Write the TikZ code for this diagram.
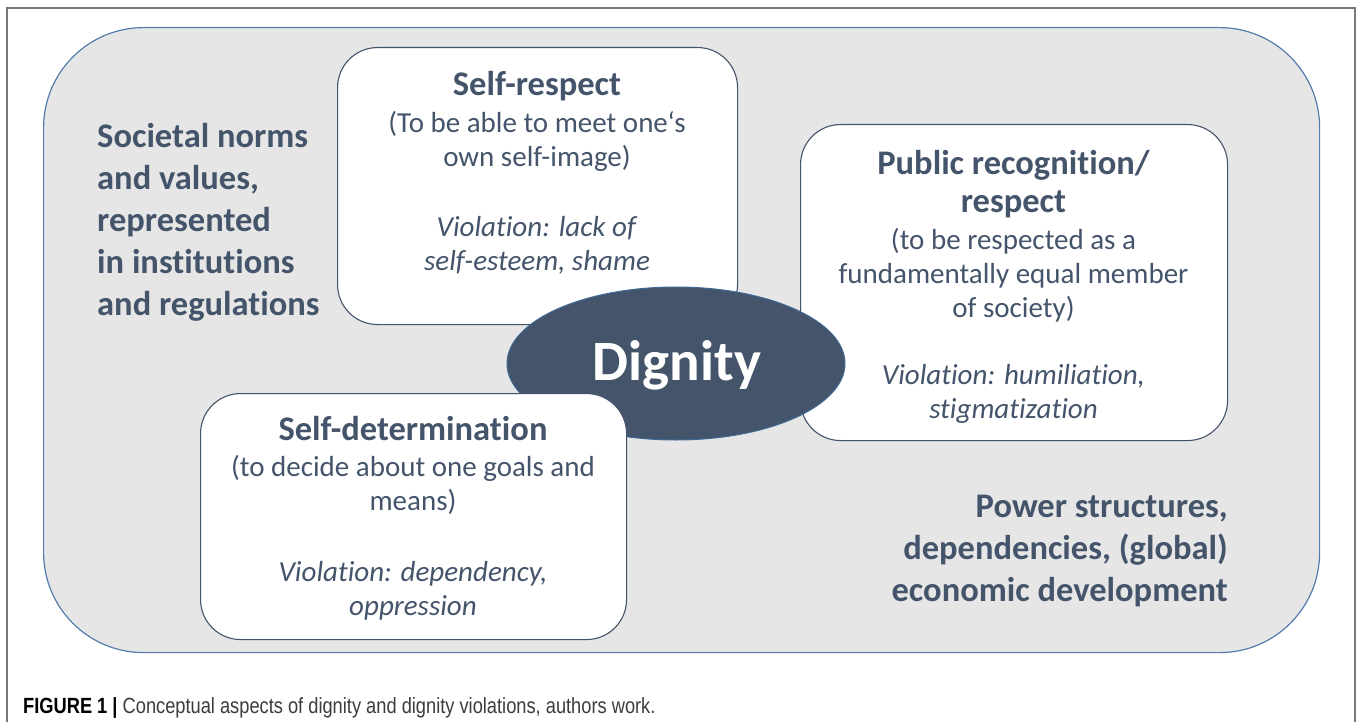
\documentclass[tikz,border=0pt]{standalone}
\usepackage{fontspec}
\setmainfont{Carlito}[Ligatures=NoCommon]
\newfontfamily\capfont[FakeStretch=0.83]{Liberation Sans}
\usetikzlibrary{shapes.geometric}

\definecolor{ink}{RGB}{68,84,106}
\definecolor{panel}{RGB}{231,230,230}
\definecolor{rim}{RGB}{84,124,172}
\definecolor{corerim}{RGB}{65,105,150}
\definecolor{frameline}{RGB}{120,120,120}
\definecolor{captext}{RGB}{60,60,60}

\newcommand{\bodyfont}{\fontsize{29}{34}\selectfont}
\newcommand{\headfont}{\fontsize{34.5}{40}\selectfont\bfseries}
\newcommand{\outerfont}{\fontsize{34.5}{42}\selectfont\bfseries}

\begin{document}
\begin{tikzpicture}[x=1pt,y=-1pt,
  aspect/.style={draw=ink, line width=1.1pt, fill=white, rounded corners=40pt,
                 inner sep=0pt, anchor=north west},
  % multi-line texts are placed by the baseline of their last line
  aspecttext/.style={anchor=base, align=center, text=ink, inner sep=0pt, font=\bodyfont},
  contexttext/.style={text=ink, inner sep=0pt, font=\outerfont}]

\useasboundingbox (0,0) rectangle (1358,722);

% figure frame (open at the bottom)
\coordinate (fbl) at (7,722);
\coordinate (ftl) at (7,8);
\coordinate (ftr) at (1355,8);
\coordinate (fbr) at (1355,722);
\draw[frameline, line width=1.2pt] (fbl) -- (ftl) -- (ftr) -- (fbr);

% societal context panel
\node[draw=rim, fill=panel, line width=1.2pt, rounded corners=100pt,
      minimum width=1276pt, minimum height=625pt, inner sep=0pt,
      anchor=north west] (panel) at (43,27) {};

% the three aspects
\node[aspect, minimum width=400pt, minimum height=277pt] (selfrespect) at (337,47) {};
\node[aspect, minimum width=427pt, minimum height=316pt] (recognition) at (800,124) {};

% dignity in the middle
\node[ellipse, fill=ink, draw=corerim, line width=1pt,
      minimum width=338pt, minimum height=153pt, inner sep=0pt] (core) at (676,363.5) {};
\node[anchor=base, text=white, inner sep=0pt,
      font=\fontsize{57}{60}\selectfont\bfseries] (coretext) at (677,380) {Dignity};

\node[aspect, minimum width=426pt, minimum height=246pt] (selfdet) at (200,393) {};

% texts of the aspects
\node[aspecttext] (selfrespecttext) at (537,270)
  {{\headfont Self-respect}\\[3pt]
   (To be able to meet one‘s\\
   own self-image)\\[36pt]
   \textit{Violation: lack of}\\
   \textit{self-esteem, shame}};

\node[aspecttext] (recognitiontext) at (1013.5,418)
  {{\headfont Public recognition/}\\[4pt]
   {\headfont respect}\\[3pt]
   (to be respected as a\\
   fundamentally equal member\\
   of society)\\[33pt]
   \textit{Violation: humiliation,}\\
   \textit{stigmatization}};

\node[aspecttext] (selfdettext) at (413,615)
  {{\headfont Self-determination}\\[2pt]
   (to decide about one goals and\\
   means)\\[37pt]
   \textit{Violation: dependency,}\\
   \textit{oppression}};

% context texts
\node[contexttext, anchor=base west, align=left] (norms) at (97,315)
  {Societal norms\\and values,\\represented\\in institutions\\and regulations};
\node[contexttext, anchor=base east, align=right] (power) at (1228,601)
  {Power structures,\\dependencies, (global)\\economic development};

% caption
\node[anchor=base west, inner sep=0pt, font=\capfont\fontsize{22}{26}\selectfont] (caption) at (23,713)
  {\textbf{FIGURE 1 |} \textcolor{captext}{Conceptual aspects of dignity and dignity violations, authors work.}};

\end{tikzpicture}
\end{document}
